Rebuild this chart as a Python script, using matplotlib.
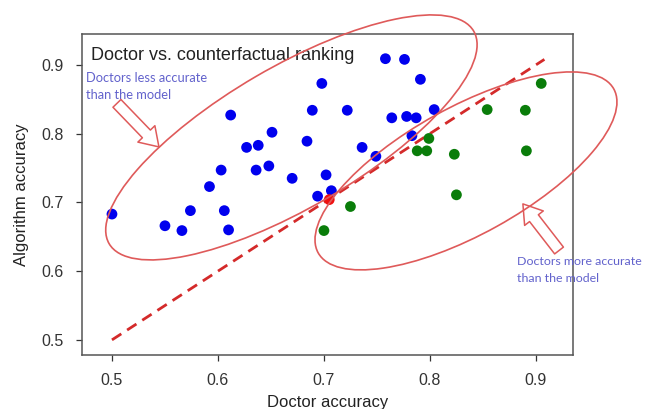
import matplotlib
matplotlib.use("Agg")
import matplotlib.pyplot as plt
from matplotlib.patches import Ellipse
from matplotlib.transforms import ScaledTranslation

plt.rcParams["font.family"] = ["Liberation Sans", "DejaVu Sans"]

# doctors less accurate than the model (blue)
less_doc = [0.500, 0.550, 0.566, 0.574, 0.592, 0.603, 0.606, 0.610, 0.612, 0.627,
            0.638, 0.636, 0.648, 0.651, 0.670, 0.684, 0.689, 0.694, 0.698, 0.702,
            0.707, 0.722, 0.736, 0.749, 0.758, 0.764, 0.776, 0.778, 0.783, 0.787,
            0.791, 0.804]
less_alg = [0.683, 0.666, 0.659, 0.688, 0.723, 0.747, 0.688, 0.660, 0.827, 0.780,
            0.783, 0.747, 0.753, 0.802, 0.735, 0.789, 0.834, 0.709, 0.873, 0.740,
            0.717, 0.834, 0.780, 0.767, 0.909, 0.823, 0.908, 0.825, 0.797, 0.823,
            0.879, 0.835]

# doctors more accurate than the model (green)
more_doc = [0.700, 0.725, 0.788, 0.797, 0.799, 0.823, 0.825, 0.854, 0.890, 0.891, 0.905]
more_alg = [0.659, 0.694, 0.775, 0.775, 0.793, 0.770, 0.711, 0.835, 0.834, 0.775, 0.873]

# tie point
tie_doc = [0.705]
tie_alg = [0.704]

diag = [0.5, 0.908]
ticks = [0.5, 0.6, 0.7, 0.8, 0.9]

fig = plt.figure(figsize=(6.48, 4.09), dpi=100)
ax = fig.add_axes([0.1265, 0.132, 0.7578, 0.785])

ax.plot(diag, diag, color="#d42a2a", linestyle="--", linewidth=2, dashes=(4, 2.5), zorder=2)
ax.scatter(less_doc, less_alg, s=60, color="#0000ee", edgecolors="none", zorder=3)
ax.scatter(more_doc, more_alg, s=60, color="#0a7d0a", edgecolors="none", zorder=3)
ax.scatter(tie_doc, tie_alg, s=60, color="#ee1111", edgecolors="none", zorder=4)

ax.set_xlim(0.4717, 0.935)
ax.set_ylim(0.478, 0.945)
ax.set_xticks(ticks)
ax.set_yticks(ticks)
ax.set_xticklabels([str(t) for t in ticks])
ax.set_yticklabels([str(t) for t in ticks])
ax.tick_params(labelsize=11.5, colors="#333333", length=4, width=0.9)
ax.tick_params(axis="x", pad=9)
ax.tick_params(axis="y", pad=9)
for sp in ax.spines.values():
    sp.set_color("#555555")
    sp.set_linewidth(1.1)

ax.set_xlabel("Doctor accuracy", fontsize=12, color="#222222", labelpad=5)
ax.set_ylabel("Algorithm accuracy", fontsize=12, color="#222222", labelpad=9)
ax.text(0.018, 0.958, "Doctor vs. counterfactual ranking", transform=ax.transAxes,
        fontsize=13, color="#222222", va="top", ha="left")

# hand drawn annotations: ellipses sized in inches, centred on data points
ring = "#df5a5a"
for (cx, cy), w, h, ang in [((0.6693, 0.7945), 4.22, 1.41, 30.25),
                            ((0.834, 0.7458), 3.38, 1.27, 29.0)]:
    tr = fig.dpi_scale_trans + ScaledTranslation(cx, cy, ax.transData)
    e = Ellipse((0, 0), w, h, angle=ang, transform=tr, fill=False,
                edgecolor=ring, linewidth=1.2, clip_on=False, zorder=5)
    fig.add_artist(e)

arrow = dict(arrowstyle="simple,head_length=1.3,head_width=1.7,tail_width=0.8",
             facecolor="white", edgecolor=ring, linewidth=1.1, shrinkA=0, shrinkB=0)
ax.annotate("", xy=(0.5443, 0.7807), xytext=(0.5047, 0.8440), arrowprops=arrow,
            annotation_clip=False, zorder=6)
ax.annotate("", xy=(0.8877, 0.6978), xytext=(0.9218, 0.6300), arrowprops=arrow,
            annotation_clip=False, zorder=6)

note = "#6262cc"
ax.text(0.4755, 0.889, "Doctors less accurate\nthan the model", fontsize=9.3,
        color=note, family=["Lato", "DejaVu Sans"], va="top", linespacing=1.45)
ax.text(0.882, 0.622, "Doctors more accurate\nthan the model", fontsize=8.9,
        color=note, family=["Lato", "DejaVu Sans"], va="top", linespacing=1.65,
        clip_on=False)

fig.savefig("out.png", dpi=100)
